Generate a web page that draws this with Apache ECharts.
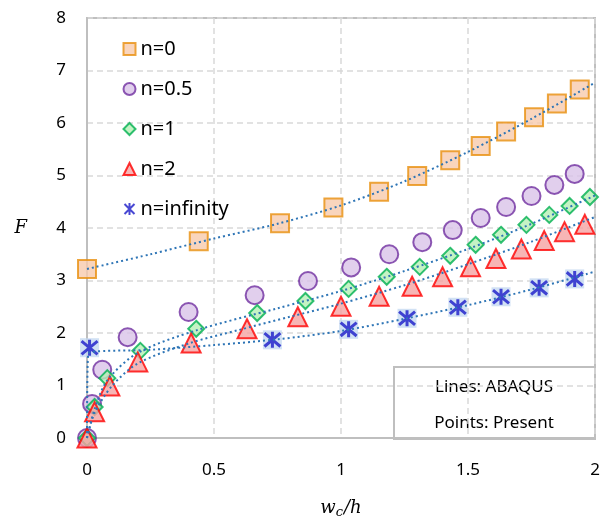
<!DOCTYPE html>
<html>

<head>
	<meta charset="UTF-8">
	<title></title>
	<style>
		html, body { margin: 0; padding: 0; background: #fff; }
		#chart { width: 613px; height: 518px; }
	</style>
	<script src="https://cdn.jsdelivr.net/npm/echarts@6/dist/echarts.min.js"></script>
</head>

<body>
	<div id="chart"></div>
	<script>
		// Points: Present
		var pts_n0 = [[0, 3.22], [0.44, 3.75], [0.76, 4.09], [0.97, 4.39], [1.15, 4.69], [1.30, 4.99], [1.43, 5.29], [1.55, 5.56], [1.65, 5.84], [1.76, 6.11], [1.85, 6.37], [1.94, 6.64]];
		var pts_n05 = [[0, 0], [0.02, 0.65], [0.06, 1.3], [0.16, 1.92], [0.40, 2.4], [0.66, 2.72], [0.87, 2.99], [1.04, 3.25], [1.19, 3.5], [1.32, 3.73], [1.44, 3.96], [1.55, 4.19], [1.65, 4.4], [1.75, 4.61], [1.84, 4.82], [1.92, 5.03]];
		var pts_n1 = [[0, 0], [0.03, 0.59], [0.08, 1.14], [0.21, 1.66], [0.43, 2.08], [0.67, 2.38], [0.86, 2.61], [1.03, 2.84], [1.18, 3.07], [1.31, 3.26], [1.43, 3.47], [1.53, 3.68], [1.63, 3.87], [1.73, 4.06], [1.82, 4.25], [1.90, 4.42], [1.98, 4.59]];
		var pts_n2 = [[0, 0], [0.03, 0.5], [0.09, 0.99], [0.20, 1.45], [0.41, 1.81], [0.63, 2.08], [0.83, 2.31], [1.0, 2.51], [1.15, 2.7], [1.28, 2.89], [1.40, 3.07], [1.51, 3.26], [1.61, 3.42], [1.71, 3.6], [1.80, 3.76], [1.88, 3.93], [1.96, 4.07]];
		var pts_ninf = [[0.01, 1.72], [0.73, 1.87], [1.03, 2.07], [1.26, 2.28], [1.46, 2.49], [1.63, 2.69], [1.78, 2.86], [1.92, 3.03]];

		// Lines: ABAQUS
		var abq_n0 = [[0, 3.22], [0.25, 3.5], [0.5, 3.8], [0.75, 4.08], [1.0, 4.43], [1.25, 4.89], [1.5, 5.45], [1.75, 6.08], [2.0, 6.77]];
		var abq_n1 = [[0, 0], [0.03, 0.55], [0.08, 1.1], [0.2, 1.62], [0.43, 2.05], [0.75, 2.47], [1.0, 2.8], [1.25, 3.18], [1.5, 3.6], [1.75, 4.08], [2.0, 4.62]];
		var abq_n2 = [[0, 0], [0.03, 0.48], [0.1, 1.0], [0.2, 1.42], [0.4, 1.8], [0.6, 2.06], [0.8, 2.31], [1.0, 2.56], [1.25, 2.91], [1.5, 3.31], [1.75, 3.74], [2.0, 4.21]];
		var abq_ninf = [[0, 0], [0.005, 1.61], [0.25, 1.68], [0.5, 1.77], [0.75, 1.88], [1.0, 2.04], [1.25, 2.27], [1.5, 2.53], [1.75, 2.83], [2.0, 3.17]];

		var mychart = echarts.init(document.getElementById('chart'));

		function abaqus(data) {
			return {
				type: 'line',
				data: data,
				smooth: 0.3,
				showSymbol: false,
				symbol: 'none',
				silent: true,
				z: 5,
				lineStyle: {
					color: '#2e75b6',
					width: 2,
					type: [2, 3]
				}
			};
		}

		mychart.setOption({
			animation: false,
			textStyle: {
				fontFamily: 'Noto Sans'
			},
			grid: {
				left: 87,
				right: 18,
				top: 18,
				bottom: 80,
				outerBoundsMode: 'none',
				show: true,
				borderColor: '#bfbfbf',
				borderWidth: 2
			},
			legend: {
				orient: 'vertical',
				left: 117,
				top: 34,
				itemGap: 20,
				itemWidth: 12,
				itemHeight: 12,
				textStyle: {
					fontSize: 20,
					color: '#000'
				},
				data: ['n=0', 'n=0.5', 'n=1', 'n=2', 'n=infinity']
			},
			xAxis: {
				type: 'value',
				min: 0,
				max: 2,
				interval: 0.5,
				name: '{w|w}{c|c}{w|/h}',
				nameLocation: 'middle',
				nameGap: 60,
				nameTextStyle: {
					rich: {
						w: { fontFamily: 'DejaVu Serif', fontStyle: 'italic', fontSize: 18, color: '#000' },
						c: { fontFamily: 'DejaVu Serif', fontStyle: 'italic', fontSize: 13, color: '#000', verticalAlign: 'bottom', padding: [8, 1, 0, 0] }
					}
				},
				axisLine: { show: true, lineStyle: { color: '#bfbfbf', width: 2 } },
				axisTick: { show: false },
				axisLabel: { fontSize: 17, color: '#000', margin: 24 },
				splitLine: { show: true, lineStyle: { color: '#d9d9d9', type: [6, 4], width: 1.5 } }
			},
			yAxis: {
				type: 'value',
				min: 0,
				max: 8,
				interval: 1,
				name: 'F',
				nameLocation: 'middle',
				nameRotate: 0,
				nameGap: 60,
				nameTextStyle: { fontFamily: 'DejaVu Serif', fontStyle: 'italic', fontSize: 18, color: '#000' },
				axisLine: { show: true, lineStyle: { color: '#bfbfbf', width: 2 } },
				axisTick: { show: false },
				axisLabel: { fontSize: 17, color: '#000', margin: 21 },
				splitLine: { show: true, lineStyle: { color: '#d9d9d9', type: [6, 4], width: 1.5 } }
			},
			graphic: [
				{
					type: 'group',
					left: 393,
					top: 366,
					children: [
						{
							type: 'rect',
							shape: { x: 0, y: 0, width: 201, height: 72 },
							style: { fill: '#fff', stroke: '#bfbfbf', lineWidth: 2 }
						},
						{
							type: 'text',
							x: 100, y: 20,
							style: { text: 'Lines: ABAQUS', fontSize: 17, fontFamily: 'Noto Sans', fill: '#000', align: 'center', verticalAlign: 'middle' }
						},
						{
							type: 'text',
							x: 100, y: 56,
							style: { text: 'Points: Present', fontSize: 17, fontFamily: 'Noto Sans', fill: '#000', align: 'center', verticalAlign: 'middle' }
						}
					]
				}
			],
			series: [
				{
					name: 'n=0',
					type: 'scatter',
					data: pts_n0,
					symbol: 'rect',
					symbolSize: 18,
					itemStyle: { color: '#f8cbad', borderColor: '#e8900e', borderWidth: 2 }
				},
				{
					name: 'n=0.5',
					type: 'scatter',
					data: pts_n05,
					symbol: 'circle',
					symbolSize: 18,
					itemStyle: { color: '#d9c3e9', borderColor: '#7030a0', borderWidth: 2 }
				},
				{
					name: 'n=1',
					type: 'scatter',
					data: pts_n1,
					symbol: 'diamond',
					symbolSize: 16,
					itemStyle: { color: '#b5f0b5', borderColor: '#00b050', borderWidth: 2 }
				},
				{
					name: 'n=2',
					type: 'scatter',
					data: pts_n2,
					symbol: 'triangle',
					symbolSize: 19,
					itemStyle: { color: '#f5a3a3', borderColor: '#ff0000', borderWidth: 2 }
				},
				{
					// light square behind the stars
					type: 'scatter',
					data: pts_ninf,
					symbol: 'rect',
					symbolSize: 19,
					silent: true,
					itemStyle: { color: '#c5d9f1' }
				},
				{
					name: 'n=infinity',
					type: 'scatter',
					data: pts_ninf,
					symbol: 'path://M0,0L10,10M10,0L0,10M5,-1L5,11',
					symbolSize: 16,
					itemStyle: { color: 'none', borderColor: '#1a1ac8', borderWidth: 3 }
				},
				abaqus(abq_n0),
				abaqus(abq_n1),
				abaqus(abq_n2),
				abaqus(abq_ninf)
			]
		});
	</script>
</body>

</html>
